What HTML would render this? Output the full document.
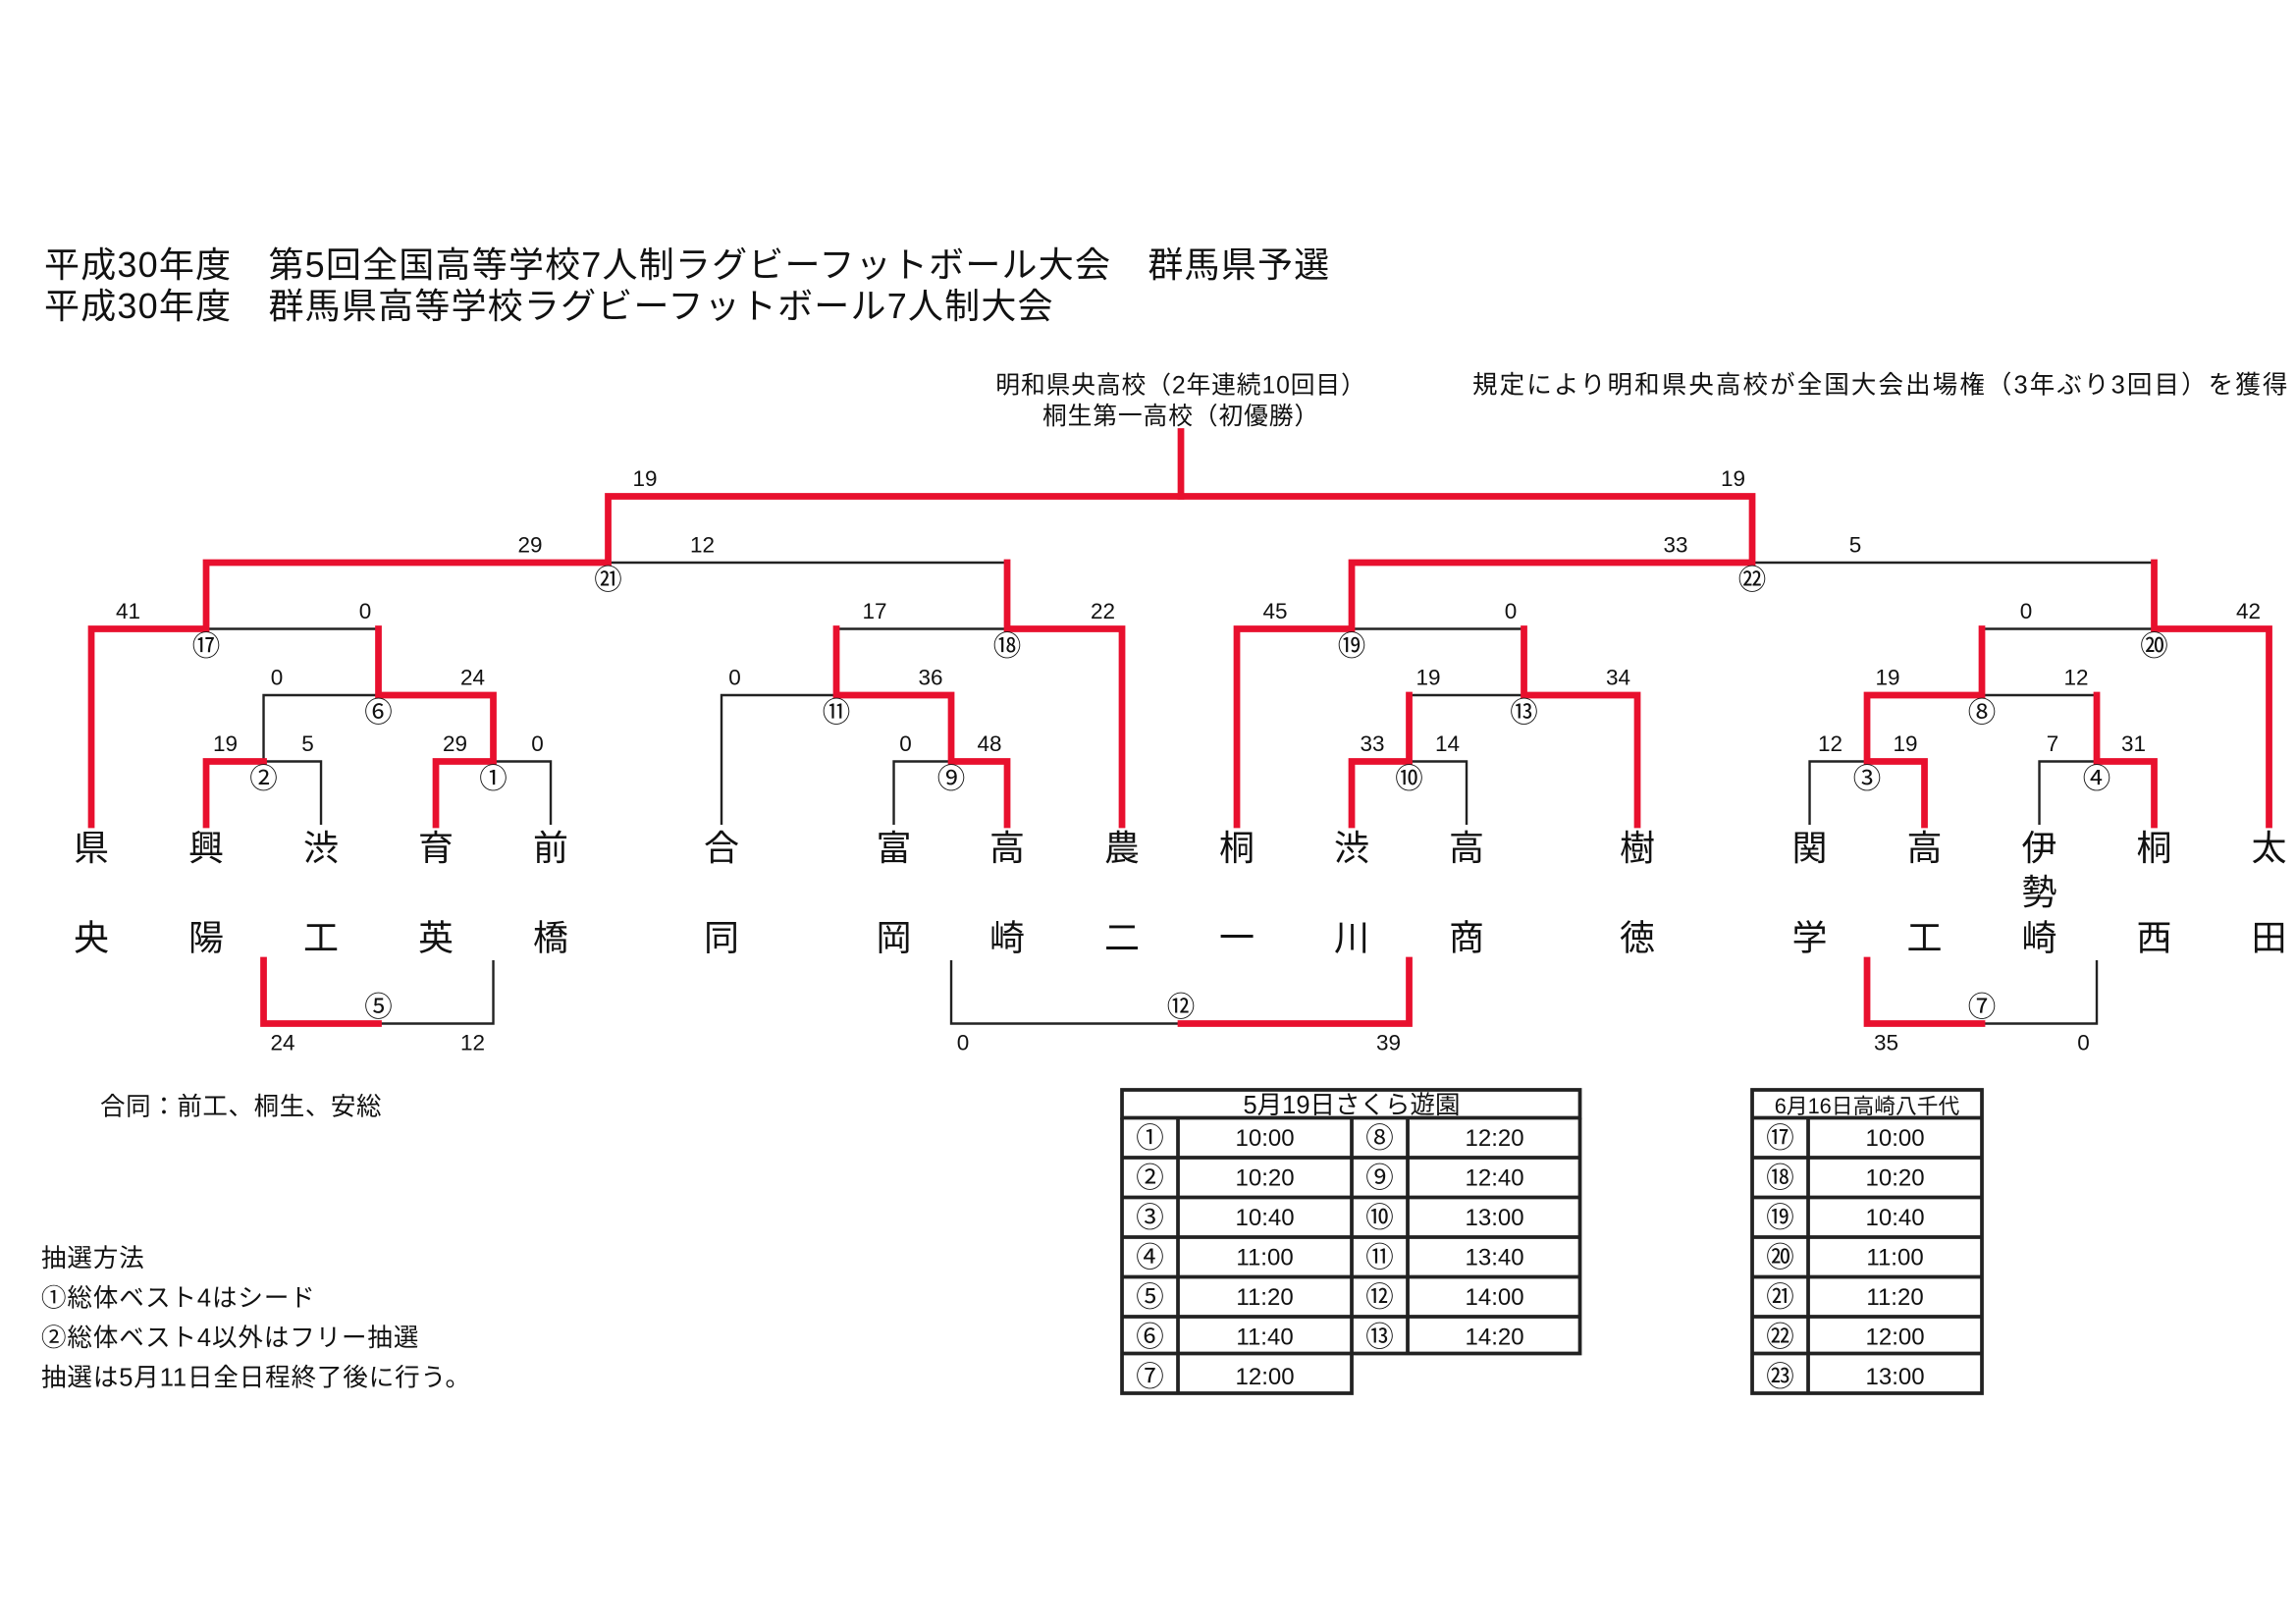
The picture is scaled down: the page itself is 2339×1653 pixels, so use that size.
<!DOCTYPE html>
<html><head><meta charset="utf-8"><style>
html,body{margin:0;padding:0;background:#fff;}
svg{display:block;}
text{font-family:"Liberation Sans","Noto Sans CJK JP",sans-serif;fill:#111;}
.r{stroke:#e8102e;stroke-width:4.5;fill:none;stroke-linecap:square;}
.b{stroke:#222;stroke-width:1.6;fill:none;}
.s{font-size:15px;text-anchor:middle;}
.c{font-size:19px;text-anchor:middle;}
.t{font-size:24px;text-anchor:middle;font-family:"Noto Sans CJK JP",sans-serif;}
.tb{stroke:#222;stroke-width:2.5;fill:none;}
.tt{font-size:16px;text-anchor:middle;}
.tc{font-size:19px;text-anchor:middle;}
</style></head><body>
<svg width="2339" height="1653" viewBox="0 0 1559.3 1102" xmlns="http://www.w3.org/2000/svg">
<rect width="1560" height="1102" fill="#fff"/>
<text x="30" y="188" font-size="24" letter-spacing="0.8">平成30年度　第5回全国高等学校7人制ラグビーフットボール大会　群馬県予選</text>
<text x="30" y="216" font-size="24" letter-spacing="0.8">平成30年度　群馬県高等学校ラグビーフットボール7人制大会</text>
<text x="802" y="267" font-size="16.5" text-anchor="middle" letter-spacing="0.6">明和県央高校（2年連続10回目）</text>
<text x="802" y="288" font-size="16.5" text-anchor="middle" letter-spacing="0.6">桐生第一高校（初優勝）</text>
<text x="1000" y="267" font-size="17" letter-spacing="1.4">規定により明和県央高校が全国大会出場権（3年ぶり3回目）を獲得</text>

<g class="b">
<path d="M179 517H218V560"/>
<path d="M335 517H374V560"/>
<path d="M179 517V472H257"/>
<path d="M140 427H257"/>
<path d="M413 382H684"/>
<path d="M490 560V472H568"/>
<path d="M607 560V517H646"/>
<path d="M568 427H684"/>
<path d="M957 517H996V560"/>
<path d="M957 472H1035"/>
<path d="M918 427H1035"/>
<path d="M1190 382H1463"/>
<path d="M1229 560V517H1268"/>
<path d="M1385 560V517H1424"/>
<path d="M1346 472H1424"/>
<path d="M1346 427H1463"/>
<path d="M257 695H335V652"/>
<path d="M646 652V695H802"/>
<path d="M1346 695H1424V652"/>
</g>
<g class="r">
<path d="M62 560V427H140V382H413V337H1190V382H918V427H840V560"/>
<path d="M802 337V293"/>
<path d="M140 560V517H179"/>
<path d="M296 560V517H335V472H257V427"/>
<path d="M684 382V427H762V560"/>
<path d="M568 427V472H646V517H684V560"/>
<path d="M1035 427V472H1112V560"/>
<path d="M918 560V517H957V472"/>
<path d="M1463 382V427H1541V560"/>
<path d="M1346 427V472H1268V517H1307V560"/>
<path d="M1424 472V517H1463V560"/>
<path d="M179 652V695H257"/>
<path d="M802 695H957V652"/>
<path d="M1268 652V695H1346"/>
</g>

<g class="s">
<text x="438" y="330">19</text><text x="1177" y="330">19</text>
<text x="360" y="375">29</text><text x="477" y="375">12</text>
<text x="1138" y="375">33</text><text x="1260" y="375">5</text>
<text x="87" y="420">41</text><text x="248" y="420">0</text>
<text x="594" y="420">17</text><text x="749" y="420">22</text>
<text x="866" y="420">45</text><text x="1026" y="420">0</text>
<text x="1376" y="420">0</text><text x="1527" y="420">42</text>
<text x="188" y="465">0</text><text x="321" y="465">24</text>
<text x="499" y="465">0</text><text x="632" y="465">36</text>
<text x="970" y="465">19</text><text x="1099" y="465">34</text>
<text x="1282" y="465">19</text><text x="1410" y="465">12</text>
<text x="153" y="510">19</text><text x="209" y="510">5</text>
<text x="309" y="510">29</text><text x="365" y="510">0</text>
<text x="615" y="510">0</text><text x="672" y="510">48</text>
<text x="932" y="510">33</text><text x="983" y="510">14</text>
<text x="1243" y="510">12</text><text x="1294" y="510">19</text>
<text x="1394" y="510">7</text><text x="1449" y="510">31</text>
<text x="192" y="713">24</text><text x="321" y="713">12</text>
<text x="654" y="713">0</text><text x="943" y="713">39</text>
<text x="1281" y="713">35</text><text x="1415" y="713">0</text>
</g>
<g class="c">
<text x="413" y="400">㉑</text><text x="1190" y="400">㉒</text>
<text x="140" y="445">⑰</text><text x="684" y="445">⑱</text>
<text x="918" y="445">⑲</text><text x="1463" y="445">⑳</text>
<text x="257" y="490">⑥</text><text x="568" y="490">⑪</text>
<text x="1035" y="490">⑬</text><text x="1346" y="490">⑧</text>
<text x="179" y="535">②</text><text x="335" y="535">①</text>
<text x="646" y="535">⑨</text><text x="957" y="535">⑩</text>
<text x="1268" y="535">③</text><text x="1424" y="535">④</text>
<text x="257" y="690">⑤</text><text x="802" y="690">⑫</text><text x="1346" y="690">⑦</text>
</g>
<g class="t">
<text x="62" y="584">県</text><text x="62" y="645">央</text>
<text x="140" y="584">興</text><text x="140" y="645">陽</text>
<text x="218" y="584">渋</text><text x="218" y="645">工</text>
<text x="296" y="584">育</text><text x="296" y="645">英</text>
<text x="374" y="584">前</text><text x="374" y="645">橋</text>
<text x="490" y="584">合</text><text x="490" y="645">同</text>
<text x="607" y="584">富</text><text x="607" y="645">岡</text>
<text x="684" y="584">高</text><text x="684" y="645">崎</text>
<text x="762" y="584">農</text><text x="762" y="645">二</text>
<text x="840" y="584">桐</text><text x="840" y="645">一</text>
<text x="918" y="584">渋</text><text x="918" y="645">川</text>
<text x="996" y="584">高</text><text x="996" y="645">商</text>
<text x="1112" y="584">樹</text><text x="1112" y="645">徳</text>
<text x="1229" y="584">関</text><text x="1229" y="645">学</text>
<text x="1307" y="584">高</text><text x="1307" y="645">工</text>
<text x="1385" y="584">伊</text><text x="1385" y="614">勢</text><text x="1385" y="645">崎</text>
<text x="1463" y="584">桐</text><text x="1463" y="645">西</text>
<text x="1541" y="584">太</text><text x="1541" y="645">田</text>
</g>

<text x="68" y="757" font-size="17" letter-spacing="0.4">合同：前工、桐生、安総</text>
<g font-size="17" letter-spacing="0.6">
<text x="28" y="860">抽選方法</text>
<text x="28" y="887">①総体ベスト4はシード</text>
<text x="28" y="914">②総体ベスト4以外はフリー抽選</text>
<text x="28" y="941">抽選は5月11日全日程終了後に行う。</text>
</g>

<g class="tb">
<rect x="762" y="740" width="311" height="19"/>
<path d="M762 759V946H918V759"/>
<path d="M1073 759V919H918"/>
<path d="M800 759V946M956 759V919"/>
<path d="M762 786H1073M762 813H1073M762 840H1073M762 867H1073M762 894H1073M762 919H918"/>
</g>
<text x="918" y="756" font-size="17" text-anchor="middle">5月19日さくら遊園</text>
<g class="tt">
<text x="859" y="778">10:00</text><text x="1015" y="778">12:20</text>
<text x="859" y="805">10:20</text><text x="1015" y="805">12:40</text>
<text x="859" y="832">10:40</text><text x="1015" y="832">13:00</text>
<text x="859" y="859">11:00</text><text x="1015" y="859">13:40</text>
<text x="859" y="886">11:20</text><text x="1015" y="886">14:00</text>
<text x="859" y="913">11:40</text><text x="1015" y="913">14:20</text>
<text x="859" y="940">12:00</text>
</g>
<g class="tc">
<text x="781" y="779">①</text><text x="937" y="779">⑧</text>
<text x="781" y="806">②</text><text x="937" y="806">⑨</text>
<text x="781" y="833">③</text><text x="937" y="833">⑩</text>
<text x="781" y="860">④</text><text x="937" y="860">⑪</text>
<text x="781" y="887">⑤</text><text x="937" y="887">⑫</text>
<text x="781" y="914">⑥</text><text x="937" y="914">⑬</text>
<text x="781" y="941">⑦</text>
</g>
<g class="tb">
<rect x="1190" y="740" width="156" height="206"/>
<path d="M1228 759V946"/>
<path d="M1190 759H1346M1190 786H1346M1190 813H1346M1190 840H1346M1190 867H1346M1190 894H1346M1190 919H1346"/>
</g>
<text x="1268" y="756" font-size="14.5" text-anchor="middle">6月16日高崎八千代</text>
<g class="tt">
<text x="1287" y="778">10:00</text>
<text x="1287" y="805">10:20</text>
<text x="1287" y="832">10:40</text>
<text x="1287" y="859">11:00</text>
<text x="1287" y="886">11:20</text>
<text x="1287" y="913">12:00</text>
<text x="1287" y="940">13:00</text>
</g>
<g class="tc">
<text x="1209" y="779">⑰</text>
<text x="1209" y="806">⑱</text>
<text x="1209" y="833">⑲</text>
<text x="1209" y="860">⑳</text>
<text x="1209" y="887">㉑</text>
<text x="1209" y="914">㉒</text>
<text x="1209" y="941">㉓</text>
</g>
</svg>
</body></html>
